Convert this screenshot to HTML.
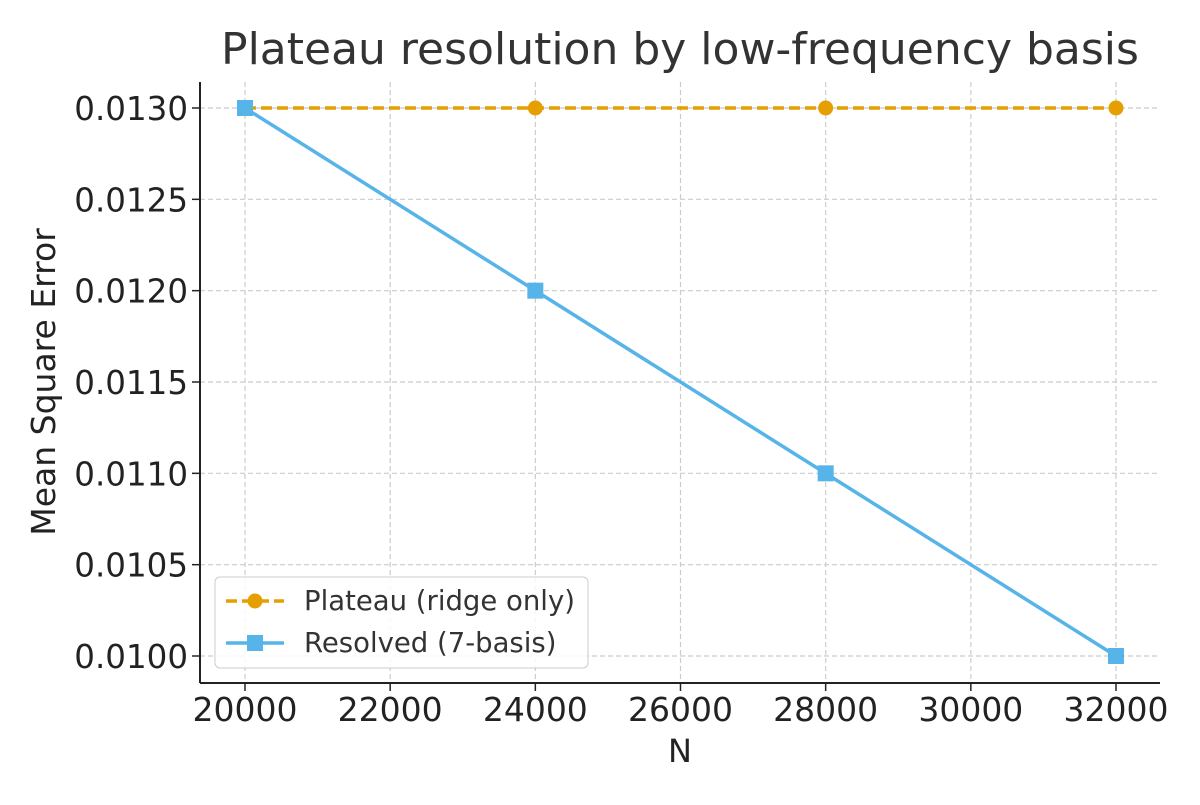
<!DOCTYPE html>
<html><head><meta charset="utf-8"><style>
body{margin:0;background:#fff;}
svg text{font-family:"DejaVu Sans","Liberation Sans",sans-serif;}
</style></head><body>
<svg width="1200" height="800">
<g id="grid"></g>
<g id="series"></g>
<g id="axes"></g>
<text x="680" y="64" font-size="44" text-anchor="middle" fill="#333">Plateau resolution by low-frequency basis</text>
<text x="680" y="762" font-size="32" text-anchor="middle" fill="#222">N</text>
<text transform="translate(55,382) rotate(-90)" font-size="33" text-anchor="middle" fill="#222">Mean Square Error</text>
<g>
<rect x="215" y="577" width="373" height="91" rx="5" fill="#fff" fill-opacity="0.85" stroke="#ccc"/>
<g>
<line x1="226" y1="601" x2="284" y2="601" stroke="#E69F00" stroke-width="3.5" stroke-dasharray="11,5"/>
<circle cx="255" cy="601" r="7.5" fill="#E69F00"/>
<text x="304" y="610" font-size="27.5" fill="#333">Plateau (ridge only)</text></g>
<g>
<line x1="226" y1="643" x2="284" y2="643" stroke="#56B4E9" stroke-width="3.5"/>
<rect x="247" y="635" width="16" height="16" fill="#56B4E9"/>
<text x="304" y="652" font-size="27.5" fill="#333">Resolved (7-basis)</text></g>
</g>
</svg>
<script>
const categories=[20000,24000,28000,32000];
const plateauValues=[0.0130,0.0130,0.0130,0.0130];
const resolvedValues=[0.0130,0.0120,0.0110,0.0100];
const xTicks=[20000,22000,24000,26000,28000,30000,32000];
const yTicks=[0.0100,0.0105,0.0110,0.0115,0.0120,0.0125,0.0130];
const NS="http://www.w3.org/2000/svg";
const L=200,R=1160,T=82,B=683;
const x=v=>245+(v-20000)*(1116-245)/12000;
const y=v=>656-(v-0.0100)*(656-108)/0.0030;
function mk(tag,attrs,parent){const e=document.createElementNS(NS,tag);for(const k in attrs)e.setAttribute(k,attrs[k]);parent.appendChild(e);return e;}
const grid=document.getElementById('grid'),axes=document.getElementById('axes'),series=document.getElementById('series');
xTicks.forEach(t=>{
 const g=mk('line',{x1:x(t),x2:x(t),y1:T,y2:B,stroke:'#ccc','stroke-dasharray':'5,3','stroke-width':1.2},grid);
 
 
 mk('line',{x1:x(t),x2:x(t),y1:B,y2:B+8,stroke:'#222','stroke-width':1.5},axes);
 const tx=mk('text',{x:x(t),y:B+38,'font-size':33,'text-anchor':'middle',fill:'#222'},axes);tx.textContent=t;
 
 
});
yTicks.forEach(t=>{
 const g=mk('line',{x1:L,x2:R,y1:y(t),y2:y(t),stroke:'#ccc','stroke-dasharray':'5,3','stroke-width':1.2},grid);
 
 
 mk('line',{x1:L-8,x2:L,y1:y(t),y2:y(t),stroke:'#222','stroke-width':1.5},axes);
 const tx=mk('text',{x:L-12,y:y(t)+12,'font-size':32.5,'text-anchor':'end',fill:'#222'},axes);tx.textContent=t.toFixed(4);
 
 
});
mk('line',{x1:L,x2:L,y1:T,y2:B,stroke:'#222','stroke-width':2},axes);
mk('line',{x1:L,x2:R,y1:B,y2:B,stroke:'#222','stroke-width':2},axes);
const pl=mk('polyline',{points:categories.map((c,i)=>x(c)+','+y(plateauValues[i])).join(' '),fill:'none',stroke:'#E69F00','stroke-width':3.5,'stroke-dasharray':'11,5'},series);


categories.forEach((c,i)=>{const p=mk('circle',{cx:x(c),cy:y(plateauValues[i]),r:7.5,fill:'#E69F00'},series);
 
 });
const rl=mk('polyline',{points:categories.map((c,i)=>x(c)+','+y(resolvedValues[i])).join(' '),fill:'none',stroke:'#56B4E9','stroke-width':3.5},series);


categories.forEach((c,i)=>{const p=mk('rect',{x:x(c)-8,y:y(resolvedValues[i])-8,width:16,height:16,fill:'#56B4E9'},series);
 
 });
</script>
</body></html>
